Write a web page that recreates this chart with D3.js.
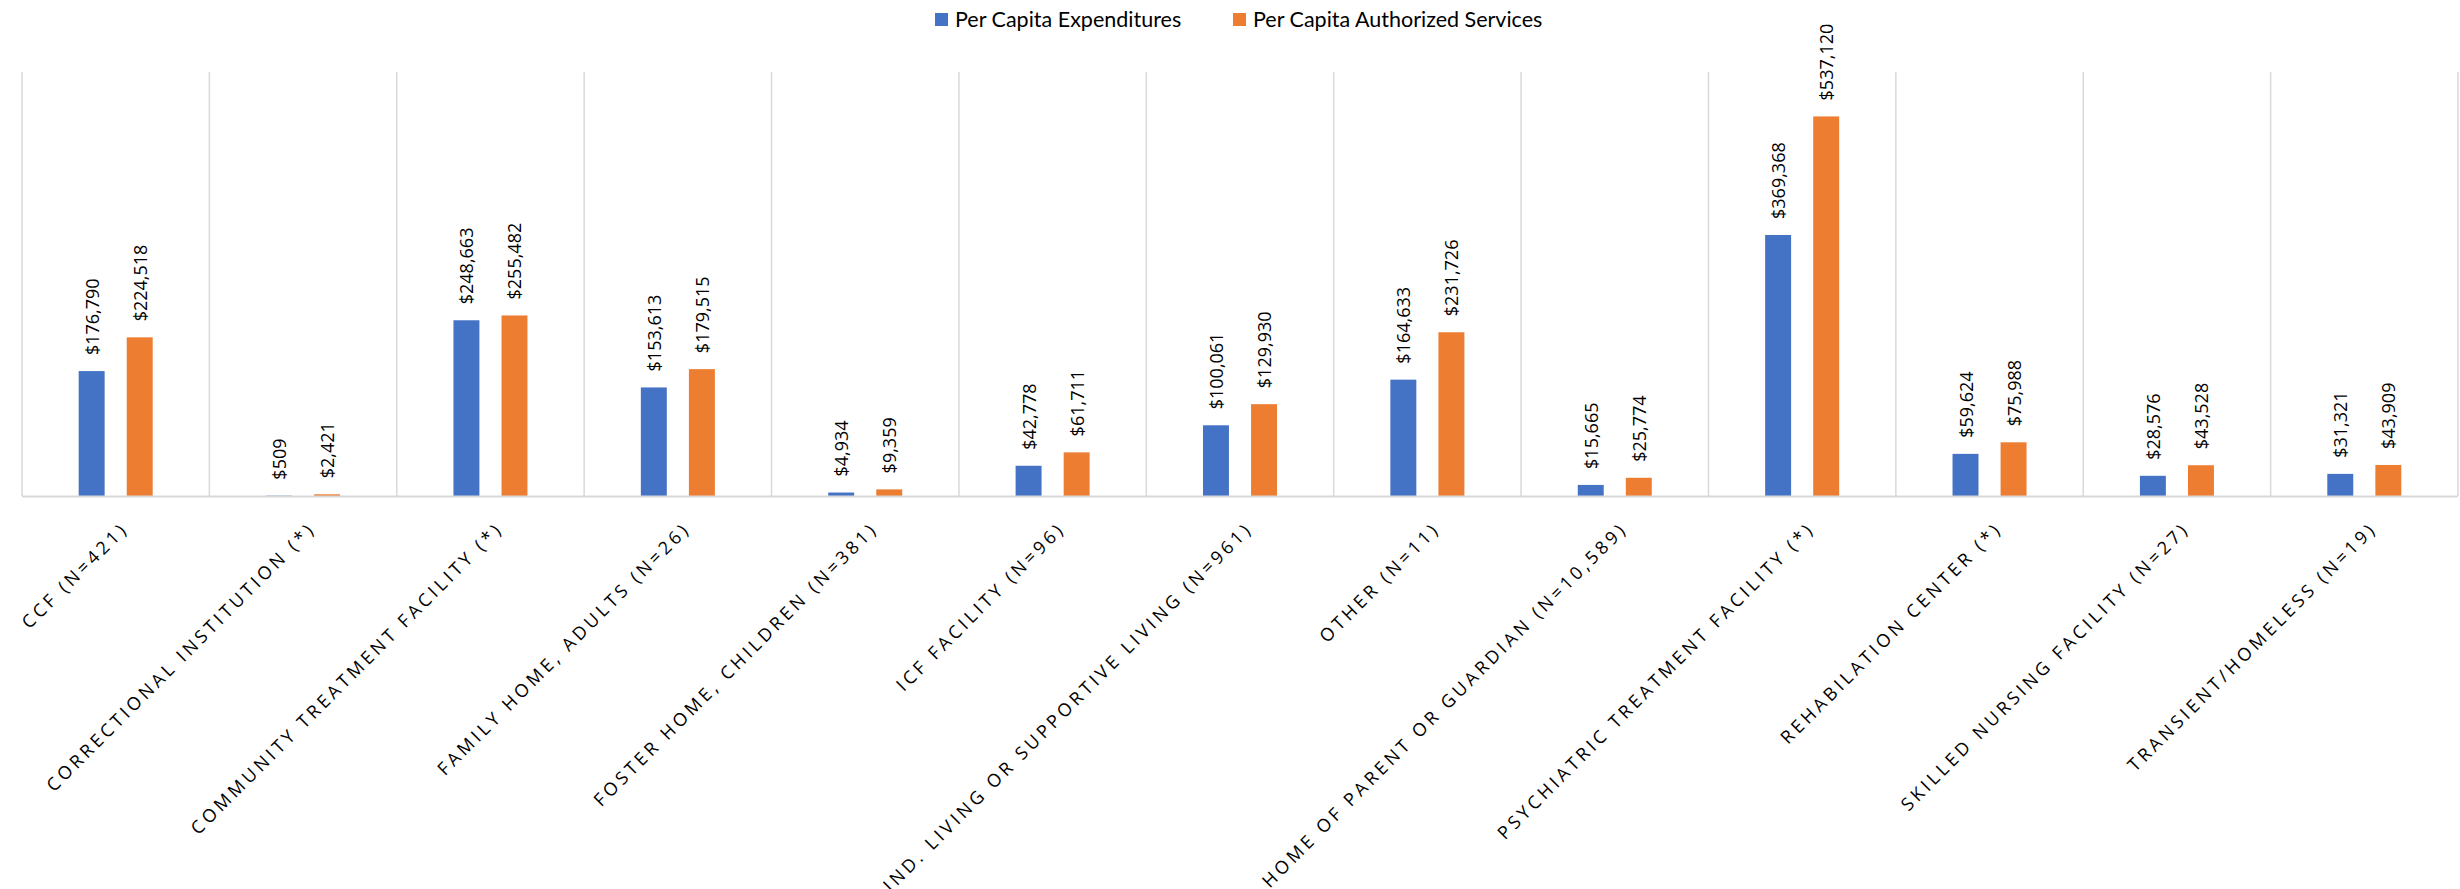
<!DOCTYPE html>
<html>
<head>
<meta charset="utf-8">
<script src="https://cdn.jsdelivr.net/npm/d3@7"></script>
<style>
  html, body { margin: 0; padding: 0; background: #fff; }
  svg { display: block; }
</style>
</head>
<body>
<script>
const categories = [
  "CCF (N=421)",
  "CORRECTIONAL INSTITUTION (*)",
  "COMMUNITY TREATMENT FACILITY (*)",
  "FAMILY HOME, ADULTS (N=26)",
  "FOSTER HOME, CHILDREN (N=381)",
  "ICF FACILITY (N=96)",
  "IND. LIVING OR SUPPORTIVE LIVING (N=961)",
  "OTHER (N=11)",
  "HOME OF PARENT OR GUARDIAN (N=10,589)",
  "PSYCHIATRIC TREATMENT FACILITY (*)",
  "REHABILATION CENTER (*)",
  "SKILLED NURSING FACILITY (N=27)",
  "TRANSIENT/HOMELESS (N=19)"
];
const seriesNames = ["Per Capita Expenditures", "Per Capita Authorized Services"];
const expenditures = [176790, 509, 248663, 153613, 4934, 42778, 100061, 164633, 15665, 369368, 59624, 28576, 31321];
const authorized = [224518, 2421, 255482, 179515, 9359, 61711, 129930, 231726, 25774, 537120, 75988, 43528, 43909];
const colors = ["#4472C4", "#ED7D31"];
const yMax = 600000;

const W = 2460, H = 889;
const plot = { left: 22, right: 2458, top: 72, bottom: 496 };

const svg = d3.select("body").append("svg").attr("width", W).attr("height", H);

const x0 = d3.scaleBand().domain(categories).range([plot.left, plot.right]).paddingInner(0).paddingOuter(0);
const bw = x0.bandwidth();
const x1 = d3.scaleBand().domain(seriesNames).range([bw * 0.3025, bw * 0.6975]).paddingInner(0.46).paddingOuter(0);
const y = d3.scaleLinear().domain([0, yMax]).range([plot.bottom, plot.top]);

// vertical category separators (gridlines)
const sepScale = d3.scaleLinear().domain([0, categories.length]).range([plot.left, plot.right]);
svg.append("g").selectAll("line")
  .data(d3.range(categories.length + 1))
  .join("line")
  .attr("x1", d => sepScale(d)).attr("x2", d => sepScale(d))
  .attr("y1", plot.top).attr("y2", plot.bottom)
  .attr("stroke", "#d9d9d9").attr("stroke-width", 1.5);

// bars
const data = categories.map((c, i) => ({ cat: c, vals: [expenditures[i], authorized[i]] }));
const groups = svg.append("g").selectAll("g")
  .data(data).join("g")
  .attr("transform", d => `translate(${x0(d.cat)},0)`);

groups.selectAll("rect")
  .data(d => d.vals.map((v, j) => ({ v, s: seriesNames[j], j })))
  .join("rect")
  .attr("x", d => x1(d.s))
  .attr("width", x1.bandwidth())
  .attr("y", d => y(d.v))
  .attr("height", d => y(0) - y(d.v))
  .attr("fill", d => colors[d.j]);

// value labels
const fmt = d3.format(",");
groups.selectAll("text.val")
  .data(d => d.vals.map((v, j) => ({ v, s: seriesNames[j], j })))
  .join("text")
  .attr("class", "val")
  .attr("transform", d => `translate(${x1(d.s) + x1.bandwidth() / 2},${y(d.v) - 16}) rotate(-90)`)
  .attr("text-anchor", "start")
  .attr("dominant-baseline", "central")
  .attr("font-family", "'Open Sans', sans-serif")
  .attr("font-size", 18)
  .attr("fill", "#000")
  .text(d => "$" + fmt(d.v));

// baseline axis
svg.append("line")
  .attr("x1", plot.left).attr("x2", plot.right)
  .attr("y1", plot.bottom + 0.5).attr("y2", plot.bottom + 0.5)
  .attr("stroke", "#d9d9d9").attr("stroke-width", 2);

// category labels
svg.append("g").selectAll("text")
  .data(categories).join("text")
  .attr("transform", d => `translate(${x0(d) + bw / 2 + 3},519) rotate(-45)`)
  .attr("text-anchor", "end")
  .attr("dominant-baseline", "hanging")
  .attr("font-family", "'Open Sans', sans-serif")
  .attr("font-size", 18)
  .attr("letter-spacing", "3.6px")
  .attr("fill", "#000")
  .text(d => d);

// legend
const legend = svg.append("g");
const legendX = [935, 1233];
seriesNames.forEach((s, i) => {
  legend.append("rect").attr("x", legendX[i]).attr("y", 13).attr("width", 13).attr("height", 13).attr("fill", colors[i]);
  legend.append("text").attr("x", legendX[i] + 20).attr("y", 27)
    .attr("font-family", "Lato, sans-serif").attr("font-size", 21.5).attr("fill", "#000")
    .text(s);
});
</script>
</body>
</html>
